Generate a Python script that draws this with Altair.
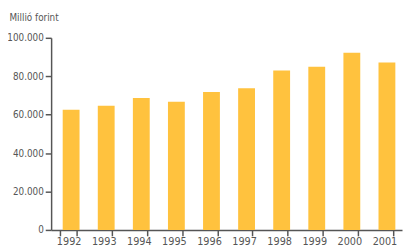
import altair as alt
import pandas as pd

years = ["1992", "1993", "1994", "1995", "1996", "1997", "1998", "1999", "2000", "2001"]
values = [62600, 64600, 68700, 66700, 71800, 73800, 83000, 85000, 92200, 87100]
y_ticks = [0, 20000, 40000, 60000, 80000, 100000]

df = pd.DataFrame({"year": years, "value": values})

axis_color = "#555555"
label_color = "#555555"
font = "DejaVu Sans Condensed, Liberation Sans"

chart = alt.Chart(df).mark_bar(color="#FFC23E", xOffset=2.5).encode(
    x=alt.X(
        "year:N",
        sort=years,
        title=None,
        scale=alt.Scale(paddingInner=0.52, paddingOuter=0.26),
        axis=alt.Axis(
            labelAngle=0,
            tickBand="extent",
            tickOffset=2,
            domainColor=axis_color,
            domainWidth=1.5,
            tickColor=axis_color,
            tickWidth=1.5,
            tickSize=6,
            labelColor=label_color,
            labelFont=font,
            labelFontSize=11,
            labelPadding=0,
        ),
    ),
    y=alt.Y(
        "value:Q",
        scale=alt.Scale(domain=[0, 100000], nice=False),
        axis=alt.Axis(
            values=y_ticks,
            grid=False,
            labelExpr="replace(format(datum.value, ','), ',', '.')",
            domainColor=axis_color,
            domainWidth=1.5,
            tickColor=axis_color,
            tickWidth=1.5,
            tickSize=6,
            labelColor=label_color,
            labelFont=font,
            labelFontSize=10,
            labelPadding=2,
            title="Millió forint",
            titleAngle=0,
            titleAlign="left",
            titleBaseline="top",
            titleX=-43,
            titleY=-26,
            titleFont=font,
            titleFontSize=10,
            titleFontWeight="normal",
            titleColor=label_color,
        ),
    ),
).properties(
    width=358,
    height=196,
    autosize=alt.AutoSizeParams(type="none"),
    padding={"left": 44, "top": 28, "right": 1, "bottom": 15},
).configure_view(stroke=None)

chart.save("out.html", embed_options={"renderer": "svg", "actions": False})
